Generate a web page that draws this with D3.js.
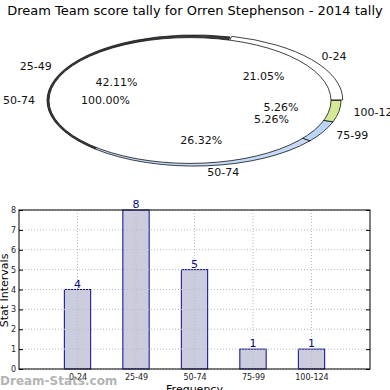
<!DOCTYPE html>
<html>
<head>
<meta charset="utf-8">
<script src="https://cdn.jsdelivr.net/npm/d3@7"></script>
<style>
  body { margin: 0; background: #fff; }
  svg { font-family: "DejaVu Sans", sans-serif; }
</style>
</head>
<body>
<div class="chart"></div>
<script>
// data
const categories = ['0-24', '25-49', '50-74', '75-99', '100-124'];
const counts = [4, 8, 5, 1, 1];
const sliceColors = ['#ffffff', '#3a3a3a', '#c4daf8', '#bcd6fa', '#d4ea94'];
const overlayCats = ['50-74'];
const overlayCounts = [19];
const yTicks = [0, 1, 2, 3, 4, 5, 6, 7, 8];

const W = 390, H = 390;
const svg = d3.select('.chart').append('svg')
  .attr('width', W).attr('height', H);

// title
svg.append('text')
  .attr('x', 195).attr('y', 15)
  .attr('text-anchor', 'middle')
  .style('font-size', '13px')
  .text('Dream Team score tally for Orren Stephenson - 2014 tally');

// ---------- pie (flattened to ellipse) ----------
const cx = 194, cy = 100.5, R = 147, sy = 0.446;
const total = d3.sum(counts);
const fmtPct = v => (v / total * 100).toFixed(2) + '%';

// matplotlib style: start at 3 o'clock, counter-clockwise
const pie = d3.pie().sort(null)
  .startAngle(Math.PI / 2).endAngle(Math.PI / 2 - 2 * Math.PI);
const slices = pie(counts);

const pieG = svg.append('g')
  .attr('transform', `translate(${cx},${cy}) scale(1,${sy})`);

const arc = d3.arc().innerRadius(0).outerRadius(R);
pieG.selectAll('.slice')
  .data(slices).enter()
  .append('path')
    .attr('class', 'slice')
    .attr('d', arc)
    .attr('transform', (d, i) => {
      if (i !== 0) return null;
      const [x, y] = d3.arc().innerRadius(0).outerRadius(R * 0.03).centroid(d);
      return `translate(${x},${y})`;
    })
    .attr('fill', (d, i) => sliceColors[i])
    .attr('stroke', '#111')
    .attr('stroke-width', 0.8)
    .attr('vector-effect', 'non-scaling-stroke');

// the 100% layer on top
const R2 = 141, dx2 = -4;
const overlay = pie(overlayCounts);
const arc2 = d3.arc().innerRadius(0).outerRadius(R2);
pieG.append('g').attr('transform', `translate(${dx2},0)`)
  .selectAll('path')
  .data(overlay).enter()
  .append('path')
    .attr('d', arc2)
    .attr('fill', '#fff')
    .attr('stroke', '#111')
    .attr('stroke-width', 0.8)
    .attr('vector-effect', 'non-scaling-stroke');

// labels
function addPieLabels(data, names, radius, offX) {
  const outer = d3.arc().innerRadius(radius * 1.1).outerRadius(radius * 1.1);
  const inner = d3.arc().innerRadius(radius * 0.6).outerRadius(radius * 0.6);
  data.forEach((d, i) => {
    const [ox, oy] = outer.centroid(d);
    svg.append('text')
      .attr('x', cx + offX + ox).attr('y', cy + oy * sy)
      .attr('dy', '0.35em')
      .attr('text-anchor', ox < 0 ? 'end' : 'start')
      .style('font-size', '11px').style('fill', '#111')
      .text(names[i]);
    const [px, py] = inner.centroid(d);
    svg.append('text')
      .attr('x', cx + offX + px).attr('y', cy + py * sy)
      .attr('dy', '0.35em')
      .attr('text-anchor', 'middle')
      .style('font-size', '11px').style('fill', '#111')
      .text(fmtPct(d.value));
  });
}
addPieLabels(slices, categories, R, 0);
addPieLabels(overlay, overlayCats, R2, dx2);

// ---------- bar chart ----------
const bx0 = 19, bx1 = 370, by0 = 210, by1 = 369;
const xScale = d3.scalePoint().domain(categories).range([bx0, bx1]).padding(1);
const yScale = d3.scaleLinear().domain([0, 8]).range([by1, by0]);
const barW = xScale.step() * 0.45;

const grid = svg.append('g').attr('class', 'grid');
grid.selectAll('.hg').data(yTicks).enter()
  .append('line')
    .attr('x1', bx0).attr('x2', bx1)
    .attr('y1', d => yScale(d)).attr('y2', d => yScale(d))
    .attr('stroke', '#bbb').attr('stroke-width', 1)
    .attr('stroke-dasharray', '1,2');

svg.selectAll('.bar')
  .data(counts).enter()
  .append('rect')
    .attr('class', 'bar')
    .attr('x', (d, i) => xScale(categories[i]) - barW / 2)
    .attr('y', d => yScale(d))
    .attr('width', barW)
    .attr('height', d => yScale(0) - yScale(d))
    .attr('fill', '#ccccdf')
    .attr('stroke', '#0a0a8a').attr('stroke-width', 1);

grid.raise();
grid.selectAll('.vg').data(categories).enter()
  .append('line')
    .attr('x1', d => xScale(d)).attr('x2', d => xScale(d))
    .attr('y1', by0).attr('y2', by1)
    .attr('stroke', '#bbb').attr('stroke-width', 1)
    .attr('stroke-dasharray', '1,2');

svg.selectAll('.val')
  .data(counts).enter()
  .append('text')
    .attr('x', (d, i) => xScale(categories[i]))
    .attr('y', d => yScale(d) - 2)
    .attr('text-anchor', 'middle')
    .style('font-size', '11px').style('fill', '#0a0a8a')
    .text(d => d);

// axes
const yAxis = d3.axisLeft(yScale).tickValues(yTicks).tickSize(-4).tickPadding(3);
const yAxisDraw = svg.append('g')
  .attr('transform', `translate(${bx0},0)`)
  .call(yAxis);
yAxisDraw.select('.domain').remove();
yAxisDraw.selectAll('text').style('font-size', '8px').style('font-family', '"DejaVu Sans", sans-serif').attr('fill', '#222');

const yAxisR = d3.axisRight(yScale).tickValues(yTicks).tickSize(-4).tickFormat('');
svg.append('g').attr('transform', `translate(${bx1},0)`).call(yAxisR)
  .select('.domain').remove();

const xAxis = d3.axisBottom(xScale).tickSize(0).tickPadding(5);
const xAxisDraw = svg.append('g')
  .attr('transform', `translate(0,${by1})`)
  .call(xAxis);
xAxisDraw.select('.domain').remove();
xAxisDraw.selectAll('text').style('font-size', '8px').style('font-family', '"DejaVu Sans", sans-serif').attr('fill', '#222');

svg.append('rect')
  .attr('x', bx0).attr('y', by0)
  .attr('width', bx1 - bx0).attr('height', by1 - by0)
  .attr('fill', 'none').attr('stroke', '#000').attr('stroke-width', 1);

svg.append('text')
  .attr('transform', `translate(4,${(by0 + by1) / 2 + 1}) rotate(-90)`)
  .attr('text-anchor', 'middle')
  .attr('dy', '0.35em')
  .style('font-size', '11px')
  .text('Stat Intervals');

svg.append('text')
  .attr('x', (bx0 + bx1) / 2).attr('y', 393)
  .attr('text-anchor', 'middle')
  .style('font-size', '11px')
  .text('Frequency');

// watermark
svg.append('text')
  .attr('x', 0).attr('y', 385)
  .style('font-size', '12px').style('font-weight', 'bold')
  .style('fill', '#a0a0a0').style('fill-opacity', 0.8)
  .text('Dream-Stats.com');
</script>
</body>
</html>
